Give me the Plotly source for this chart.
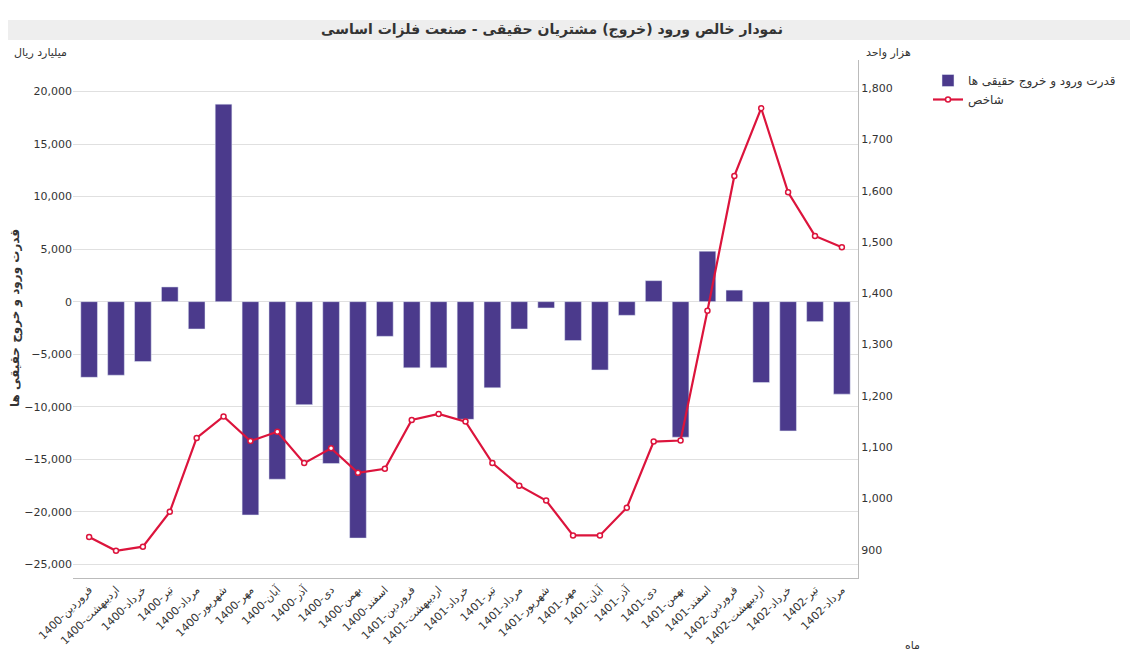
import plotly.graph_objects as go

months = ["فروردین","اردیبهشت","خرداد","تیر","مرداد","شهریور","مهر","آبان","آذر","دی","بهمن","اسفند"]
categories = [f"{y}-{m}" for y in ["1400","1401"] for m in months] + [f"1402-{m}" for m in months[:5]]
flow = [-7200,-7000,-5700,1400,-2600,18800,-20300,-16900,-9800,-15400,-22500,-3300,
        -6300,-6300,-11200,-8200,-2600,-600,-3700,-6500,-1300,2000,-12900,4800,1100,
        -7700,-12300,-1900,-8800]
index = [925,898,906,974,1118,1160,1112,1130,1069,1098,1050,1058,
         1153,1165,1150,1069,1025,996,928,928,982,1111,1113,1366,1629,1761,1597,1512,1490]

OFF = 8  # page offset
W, H = 1138, 657
L, R, T, B = 73 - OFF, W - 858 + OFF, 60 - OFF, H - 578 + OFF
PW, PH = W - L - R, H - T - B
def px(x): return (x - OFF - L) / PW
def py(y): return (H - B - (y - OFF)) / PH

fig = go.Figure()
fig.add_bar(x=categories, y=flow, name="قدرت ورود و خروج حقیقی ها",
            marker_color="#4b3a8c", width=0.62)
fig.add_scatter(x=categories, y=index, name="شاخص", yaxis="y2", mode="lines+markers",
                line=dict(color="#dc143c", width=2.2),
                marker=dict(size=5, color="white", line=dict(color="#dc143c", width=1.5)))
fig.update_layout(
    width=W, height=H, paper_bgcolor="white", plot_bgcolor="white",
    margin=dict(l=L, r=R, t=T, b=B, autoexpand=False),
    font=dict(family="DejaVu Sans", size=11, color="#333"),
    xaxis=dict(tickangle=-45, showgrid=False, showline=True, linecolor="#bbb",
               tickfont=dict(size=11), automargin=False, range=[-0.6, 28.6]),
    yaxis=dict(range=[-26300, 23000], tickvals=list(range(-25000, 20001, 5000)),
               tickformat=",", gridcolor="#e0e0e0", zeroline=False, automargin=False),
    yaxis2=dict(overlaying="y", side="right", range=[845, 1855], dtick=100, tickformat=",",
                showgrid=False, showline=True, linecolor="#bbb", zeroline=False, automargin=False),
    legend=dict(x=px(928), y=py(66), xanchor="left", yanchor="top", font=dict(size=12)),
    showlegend=True,
)
fig.add_shape(type="rect", xref="paper", yref="paper", x0=px(OFF), x1=px(1130), y0=py(40), y1=py(20),
              fillcolor="#eeeeee", line=dict(width=0), layer="below")
def ann(text, x, y, size=11, **kw):
    fig.add_annotation(text=text, xref="paper", yref="paper", x=px(x), y=py(y), showarrow=False,
                       xanchor="center", yanchor="middle", font=dict(size=size, color="#333"), **kw)
ann("<b>نمودار خالص ورود (خروج) مشتریان حقیقی - صنعت فلزات اساسی</b>", 552, 30, 14)
ann("میلیارد ریال", 40, 52)
ann("هزار واحد", 888, 52)
ann("<b>قدرت ورود و خروج حقیقی ها</b>", 15, 318, 12, textangle=-90)
ann("ماه", 912, 645)
fig.write_html("out.html")
